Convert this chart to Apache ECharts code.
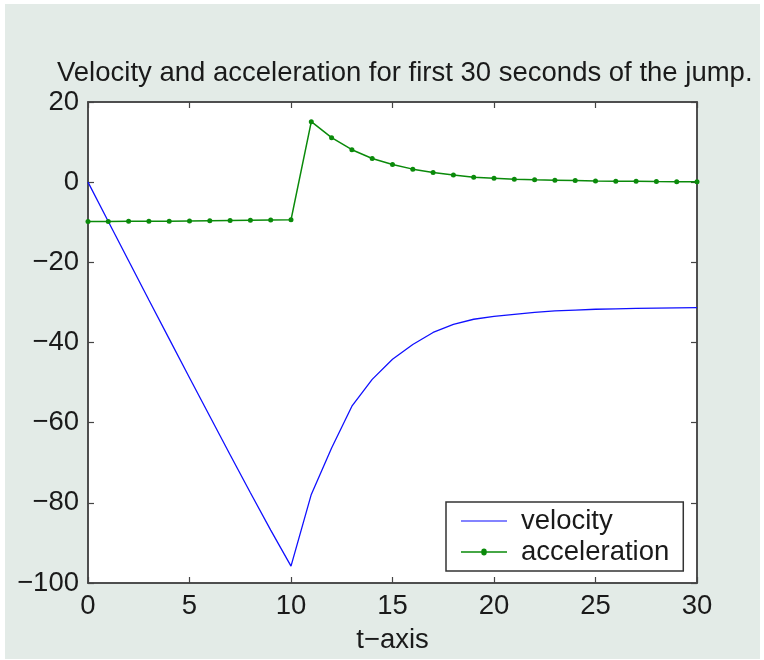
<!DOCTYPE html>
<html>
<head>
<meta charset="utf-8">
<script src="https://cdn.jsdelivr.net/npm/echarts@6/dist/echarts.min.js"></script>
<style>
html,body{margin:0;padding:0;background:#fff;}
#c{width:764px;height:660px;}
</style>
</head>
<body>
<div id="c"></div>
<script>
const titleText = 'Velocity and acceleration for first 30 seconds of the jump.';
const tValues = [0,1,2,3,4,5,6,7,8,9,10,11,12,13,14,15,16,17,18,19,20,21,22,23,24,25,26,27,28,29,30];
const velocity = [0,-9.8,-19.6,-29.4,-39.1,-48.8,-58.4,-68.0,-77.5,-86.8,-95.8,
  -77.9,-66.3,-55.9,-49.2,-44.2,-40.5,-37.5,-35.5,-34.2,-33.5,-33.0,-32.5,-32.1,-31.9,-31.7,-31.6,-31.5,-31.4,-31.35,-31.3];
const acceleration = [-9.8,-9.8,-9.78,-9.75,-9.72,-9.68,-9.63,-9.58,-9.52,-9.46,-9.4,
  15.1,11.1,8.1,5.9,4.4,3.25,2.4,1.8,1.25,1.0,0.75,0.6,0.5,0.4,0.3,0.25,0.2,0.15,0.12,0.1];
const seriesNames = ['velocity','acceleration'];
const xAxisName = 't\u2212axis';

const FONT = '"Liberation Sans", Arial, Helvetica, sans-serif';
const FS = 27.5;
const velData = tValues.map((t,i)=>[t, velocity[i]]);
const accData = tValues.map((t,i)=>[t, acceleration[i]]);
const fmtY = v => v < 0 ? '\u2212' + Math.abs(v) : String(v);

const chart = echarts.init(document.getElementById('c'), null, {renderer:'canvas'});
const axisCommon = () => ({
  axisLine:{show:true, onZero:false, lineStyle:{color:'#444', width:1.5}},
  splitLine:{show:false},
  axisTick:{show:true, inside:true, length:6, lineStyle:{color:'#444', width:1.2}}
});
const VEL_ICON = 'path://M0 0H46V1.4H0Z';
const ACC_ICON = 'path://M0 2.3H20.3A2.7 2.7 0 0 1 25.7 2.3H46V3.7H25.7A2.7 2.7 0 0 1 20.3 3.7H0Z';
chart.setOption({
  animation:false,
  backgroundColor:'#fff',
  graphic:[{type:'rect', z:-10, shape:{x:5,y:4,width:755,height:655}, style:{fill:'#e3ebe7'}}],
  title:{text:titleText, left:57, top:59, padding:0,
    textStyle:{fontFamily:FONT, fontSize:FS, fontWeight:'normal', color:'#1a1a1a'}},
  grid:{left:88, right:67, top:102, bottom:77, show:true, backgroundColor:'#fff', borderColor:'#444', borderWidth:1.5},
  legend:{orient:'vertical', left:446, top:502,
    data:[{name:seriesNames[0], icon:VEL_ICON}, {name:seriesNames[1], icon:ACC_ICON}],
    backgroundColor:'#fff', borderColor:'#333', borderWidth:1.5, borderRadius:0,
    padding:[5,14,5,15], itemWidth:46, itemHeight:12, itemGap:3,
    textStyle:{fontFamily:FONT, fontSize:FS, color:'#1a1a1a', padding:[0,0,0,9]}},
  xAxis:[
    Object.assign(axisCommon(), {type:'value', min:0, max:30, interval:5, position:'bottom',
      name:xAxisName, nameLocation:'middle', nameGap:43,
      nameTextStyle:{fontFamily:FONT, fontSize:FS, color:'#1a1a1a'},
      axisLabel:{fontFamily:FONT, fontSize:FS, color:'#1a1a1a', margin:9}}),
    Object.assign(axisCommon(), {type:'value', min:0, max:30, interval:5, position:'top', axisLabel:{show:false}})
  ],
  yAxis:[
    Object.assign(axisCommon(), {type:'value', min:-100, max:20, interval:20, position:'left',
      axisLabel:{fontFamily:FONT, fontSize:FS, color:'#1a1a1a', margin:9, formatter:fmtY}}),
    Object.assign(axisCommon(), {type:'value', min:-100, max:20, interval:20, position:'right', axisLabel:{show:false}})
  ],
  series:[
    {name:seriesNames[0], type:'line', data:velData, symbol:'none', showSymbol:false,
      lineStyle:{color:'#1010ff', width:1.3}, itemStyle:{color:'#5a5aff'}},
    {name:seriesNames[1], type:'line', data:accData, symbol:'circle', symbolSize:5, showSymbol:true,
      lineStyle:{color:'#0a8a0a', width:1.5}, itemStyle:{color:'#0a8a0a'}}
  ]
});
</script>
</body>
</html>
